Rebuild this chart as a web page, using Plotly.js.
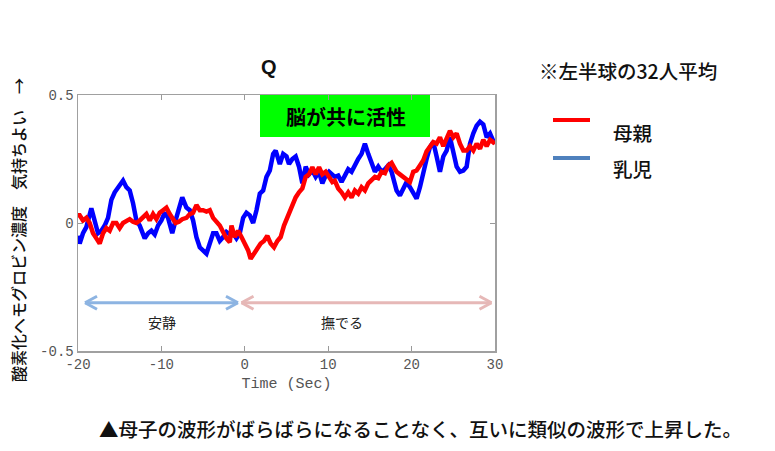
<!DOCTYPE html>
<html>
<head>
<meta charset="utf-8">
<script src="https://cdn.plot.ly/plotly-3.0.1.min.js"></script>
<style>html,body{margin:0;padding:0;background:#fff;}#chart{width:775px;height:451px;}</style>
</head>
<body>
<div id="chart"></div>
<script>
// ---- data ----
const infantTime = [-20.0,-19.8,-19.4,-19.0,-18.4,-18.0,-17.6,-17.2,-16.8,-16.4,-16.0,-15.6,-15.2,-14.6,-14.2,-13.8,-13.4,-13.0,-12.6,-12.0,-11.6,-11.2,-10.8,-10.4,-10.0,-9.6,-9.2,-8.7,-8.3,-7.9,-7.5,-7.0,-6.6,-6.2,-5.8,-5.4,-5.0,-4.6,-4.2,-3.8,-3.4,-3.0,-2.6,-2.2,-1.8,-1.4,-1.0,-0.6,-0.2,0.2,0.6,1.0,1.4,1.8,2.2,2.6,3.0,3.4,3.7,4.2,4.6,5.0,5.3,5.7,6.1,6.5,6.9,7.3,7.7,8.1,8.5,8.9,9.3,9.7,10.1,10.5,10.8,11.2,11.6,12.0,12.4,12.8,13.2,13.6,14.0,14.4,14.8,15.2,15.6,16.0,16.4,16.8,17.2,17.6,18.0,18.2,18.6,19.0,19.4,19.8,20.2,20.6,21.0,21.4,21.8,22.2,22.6,23.0,23.4,23.8,24.2,24.6,25.0,25.4,25.8,26.2,26.6,27.0,27.4,27.8,28.2,28.6,29.0,29.4,29.8,30.0];
const infantValues = [-0.05,-0.08,-0.04,-0.016,0.057,0.01,-0.04,-0.03,-0.01,0.02,0.09,0.12,0.14,0.166,0.14,0.127,0.077,0.01,-0.01,-0.06,-0.04,-0.03,-0.045,-0.01,0.01,0.04,0.02,-0.04,0.01,0.06,0.10,0.06,0.05,0.01,-0.055,-0.095,-0.107,-0.12,-0.08,-0.04,-0.04,-0.07,-0.055,-0.035,-0.045,-0.04,-0.06,-0.04,0.02,0.04,0.03,0.0,0.05,0.115,0.127,0.18,0.205,0.27,0.283,0.23,0.27,0.26,0.23,0.25,0.26,0.22,0.155,0.22,0.19,0.205,0.18,0.2,0.155,0.185,0.2,0.19,0.18,0.185,0.16,0.185,0.21,0.2,0.23,0.25,0.27,0.31,0.27,0.23,0.2,0.22,0.2,0.21,0.225,0.2,0.15,0.127,0.107,0.133,0.16,0.14,0.115,0.095,0.14,0.205,0.25,0.296,0.316,0.26,0.2,0.26,0.283,0.335,0.27,0.22,0.2,0.205,0.22,0.31,0.35,0.38,0.396,0.385,0.335,0.35,0.32,0.31];

const motherTime = [-20.0,-19.8,-19.4,-19.0,-18.6,-18.2,-17.8,-17.4,-17.0,-16.6,-16.2,-15.8,-15.4,-15.0,-14.6,-14.2,-13.8,-13.4,-13.0,-12.6,-12.2,-11.8,-11.4,-11.0,-10.6,-10.2,-9.8,-9.4,-9.0,-8.6,-8.3,-7.9,-7.5,-7.0,-6.6,-6.2,-5.8,-5.4,-5.0,-4.6,-4.2,-3.8,-3.4,-3.0,-2.6,-2.2,-1.8,-1.6,-1.2,-0.8,-0.4,0.0,0.4,0.7,1.1,1.5,1.9,2.3,2.7,3.1,3.5,3.9,4.3,4.7,5.1,5.7,6.1,6.5,6.9,7.3,7.7,8.1,8.5,8.9,9.3,9.7,10.1,10.5,10.8,11.2,11.6,12.0,12.4,12.8,13.2,13.6,14.0,14.4,14.8,15.2,15.6,16.0,16.4,16.8,17.2,17.6,18.0,18.2,18.6,19.0,19.4,19.8,20.2,20.6,21.0,21.4,21.8,22.2,22.6,23.0,23.4,23.8,24.2,24.6,25.0,25.4,25.8,26.2,26.6,27.0,27.4,27.8,28.2,28.6,29.0,29.4,29.8,30.0];
const motherValues = [0.03,0.03,0.01,0.02,0.0,-0.04,-0.06,-0.08,-0.04,-0.02,-0.03,0.0,0.0,-0.02,0.0,0.01,0.015,0.005,0.0,0.01,0.02,0.035,0.01,0.035,0.015,0.04,0.05,0.06,0.035,0.01,0.0,0.005,0.015,0.02,0.035,0.04,0.07,0.05,0.05,0.045,0.05,0.02,0.005,-0.01,-0.035,-0.06,-0.075,-0.01,-0.055,-0.03,-0.055,-0.08,-0.107,-0.14,-0.12,-0.105,-0.08,-0.07,-0.05,-0.08,-0.095,-0.07,-0.055,-0.01,0.02,0.075,0.1,0.12,0.135,0.18,0.19,0.218,0.19,0.218,0.19,0.2,0.18,0.16,0.165,0.135,0.12,0.1,0.12,0.1,0.127,0.115,0.14,0.127,0.155,0.166,0.18,0.175,0.2,0.195,0.225,0.235,0.215,0.2,0.19,0.18,0.165,0.16,0.2,0.205,0.225,0.245,0.28,0.3,0.316,0.31,0.335,0.3,0.335,0.36,0.335,0.35,0.31,0.283,0.283,0.3,0.283,0.31,0.29,0.325,0.3,0.325,0.315,0.32];

const xTickVals = [-20,-10,0,10,20,30];
const xTickText = ['-20','-10','0','10','20','30'];
const yTickVals = [-0.5,0,0.5];
const yTickText = ['-0.5','0','0.5'];

const seriesNames = ['母親','乳児'];
const chartTitle = 'Q';
const xTitle = 'Time (Sec)';
const yTitle = '酸素化ヘモグロビン濃度　気持ちよい　→';
const boxText = '脳が共に活性';
const noteText = '※左半球の32人平均';
const restLabel = '安静';
const strokeLabel = '撫でる';
const caption = '▲母子の波形がばらばらになることなく、互いに類似の波形で上昇した。';

// ---- layout helpers (pixel -> paper) ----
const L = 78, R = 495, T = 95, B = 351;
const px = v => (v - L) / (R - L);
const py = v => (B - v) / (B - T);

const traces = [
  {x: infantTime, y: infantValues, type: 'scatter', mode: 'lines', name: seriesNames[1],
   line: {color: '#0000ff', width: 4.5}},
  {x: motherTime, y: motherValues, type: 'scatter', mode: 'lines', name: seriesNames[0],
   line: {color: '#ff0000', width: 4.5}}
];

function arrowShapes(x0, x1, y, color) {
  const hl = 12, hh = 6.5;
  const seg = (a, b, c, d) => ({type: 'line', xref: 'paper', yref: 'paper',
    x0: px(a), y0: py(b), x1: px(c), y1: py(d), line: {color: color, width: 3}});
  return [
    seg(x0, y, x1, y),
    seg(x0, y, x0 + hl, y - hh), seg(x0, y, x0 + hl, y + hh),
    seg(x1, y, x1 - hl, y - hh), seg(x1, y, x1 - hl, y + hh)
  ];
}

const shapes = [
  {type: 'rect', xref: 'paper', yref: 'paper', x0: px(260), x1: px(430), y0: py(137), y1: py(94.5),
   fillcolor: '#00ff00', line: {width: 0}, layer: 'below'},
  {type: 'line', xref: 'paper', yref: 'paper', x0: px(553), x1: px(590), y0: py(120), y1: py(120),
   line: {color: '#ff0000', width: 4}},
  {type: 'line', xref: 'paper', yref: 'paper', x0: px(553), x1: px(590), y0: py(158), y1: py(158),
   line: {color: '#4f81bd', width: 4}}
].concat(arrowShapes(85, 238, 302.7, '#8db4e2'), arrowShapes(241.5, 491.5, 302.7, '#e6b8b7'));

const jp = 'Noto Sans CJK JP, sans-serif';
const ann = (text, x, y, size, opts) => Object.assign({
  text: text, xref: 'paper', yref: 'paper', x: px(x), y: py(y), showarrow: false,
  xanchor: 'center', yanchor: 'middle', font: {family: jp, size: size, color: '#111', weight: 500}
}, opts || {});

const annotations = [
  ann('<b>' + chartTitle + '</b>', 269, 67, 20, {font: {family: 'Liberation Sans, Arial', size: 20, color: '#111'}}),
  ann('<b>' + boxText + '</b>', 346, 116, 20, {font: {family: jp, size: 20, color: '#000'}}),
  ann(noteText, 537, 70, 19.5, {xanchor: 'left'}),
  ann(seriesNames[0], 611, 132, 19.5, {xanchor: 'left'}),
  ann(seriesNames[1], 611, 168, 19.5, {xanchor: 'left'}),
  ann(restLabel, 162, 322, 14, {font: {family: jp, size: 14, color: '#222'}}),
  ann(strokeLabel, 342, 322, 14, {font: {family: jp, size: 14, color: '#222'}}),
  ann(caption, 97, 428, 19.5, {xanchor: 'left'}),
  ann(yTitle, 18, 230, 16, {textangle: -90})
];

const layout = {
  width: 775, height: 451,
  margin: {l: L, r: 775 - R, t: T, b: 451 - B, pad: 0},
  paper_bgcolor: '#ffffff', plot_bgcolor: '#ffffff',
  showlegend: false,
  xaxis: {
    range: [-20, 30], tickvals: xTickVals, ticktext: xTickText,
    ticks: 'inside', ticklen: 5, tickcolor: '#999', tickwidth: 1,
    showline: true, linecolor: '#a0a0a0', linewidth: 1.5, mirror: 'ticks',
    showgrid: false, zeroline: false,
    tickfont: {family: 'Liberation Mono, monospace', size: 14, color: '#555'},
    title: {text: xTitle, standoff: 5, font: {family: 'Liberation Mono, monospace', size: 15, color: '#555'}}
  },
  yaxis: {
    range: [-0.5, 0.5], tickvals: yTickVals, ticktext: yTickText,
    ticks: 'inside', ticklen: 5, tickcolor: '#999', tickwidth: 1,
    showline: true, linecolor: '#a0a0a0', linewidth: 1.5, mirror: 'ticks',
    showgrid: false, zeroline: false,
    tickfont: {family: 'Liberation Mono, monospace', size: 14, color: '#555'}
  },
  shapes: shapes,
  annotations: annotations
};

Plotly.newPlot('chart', traces, layout, {displayModeBar: false, staticPlot: true});
</script>
</body>
</html>
